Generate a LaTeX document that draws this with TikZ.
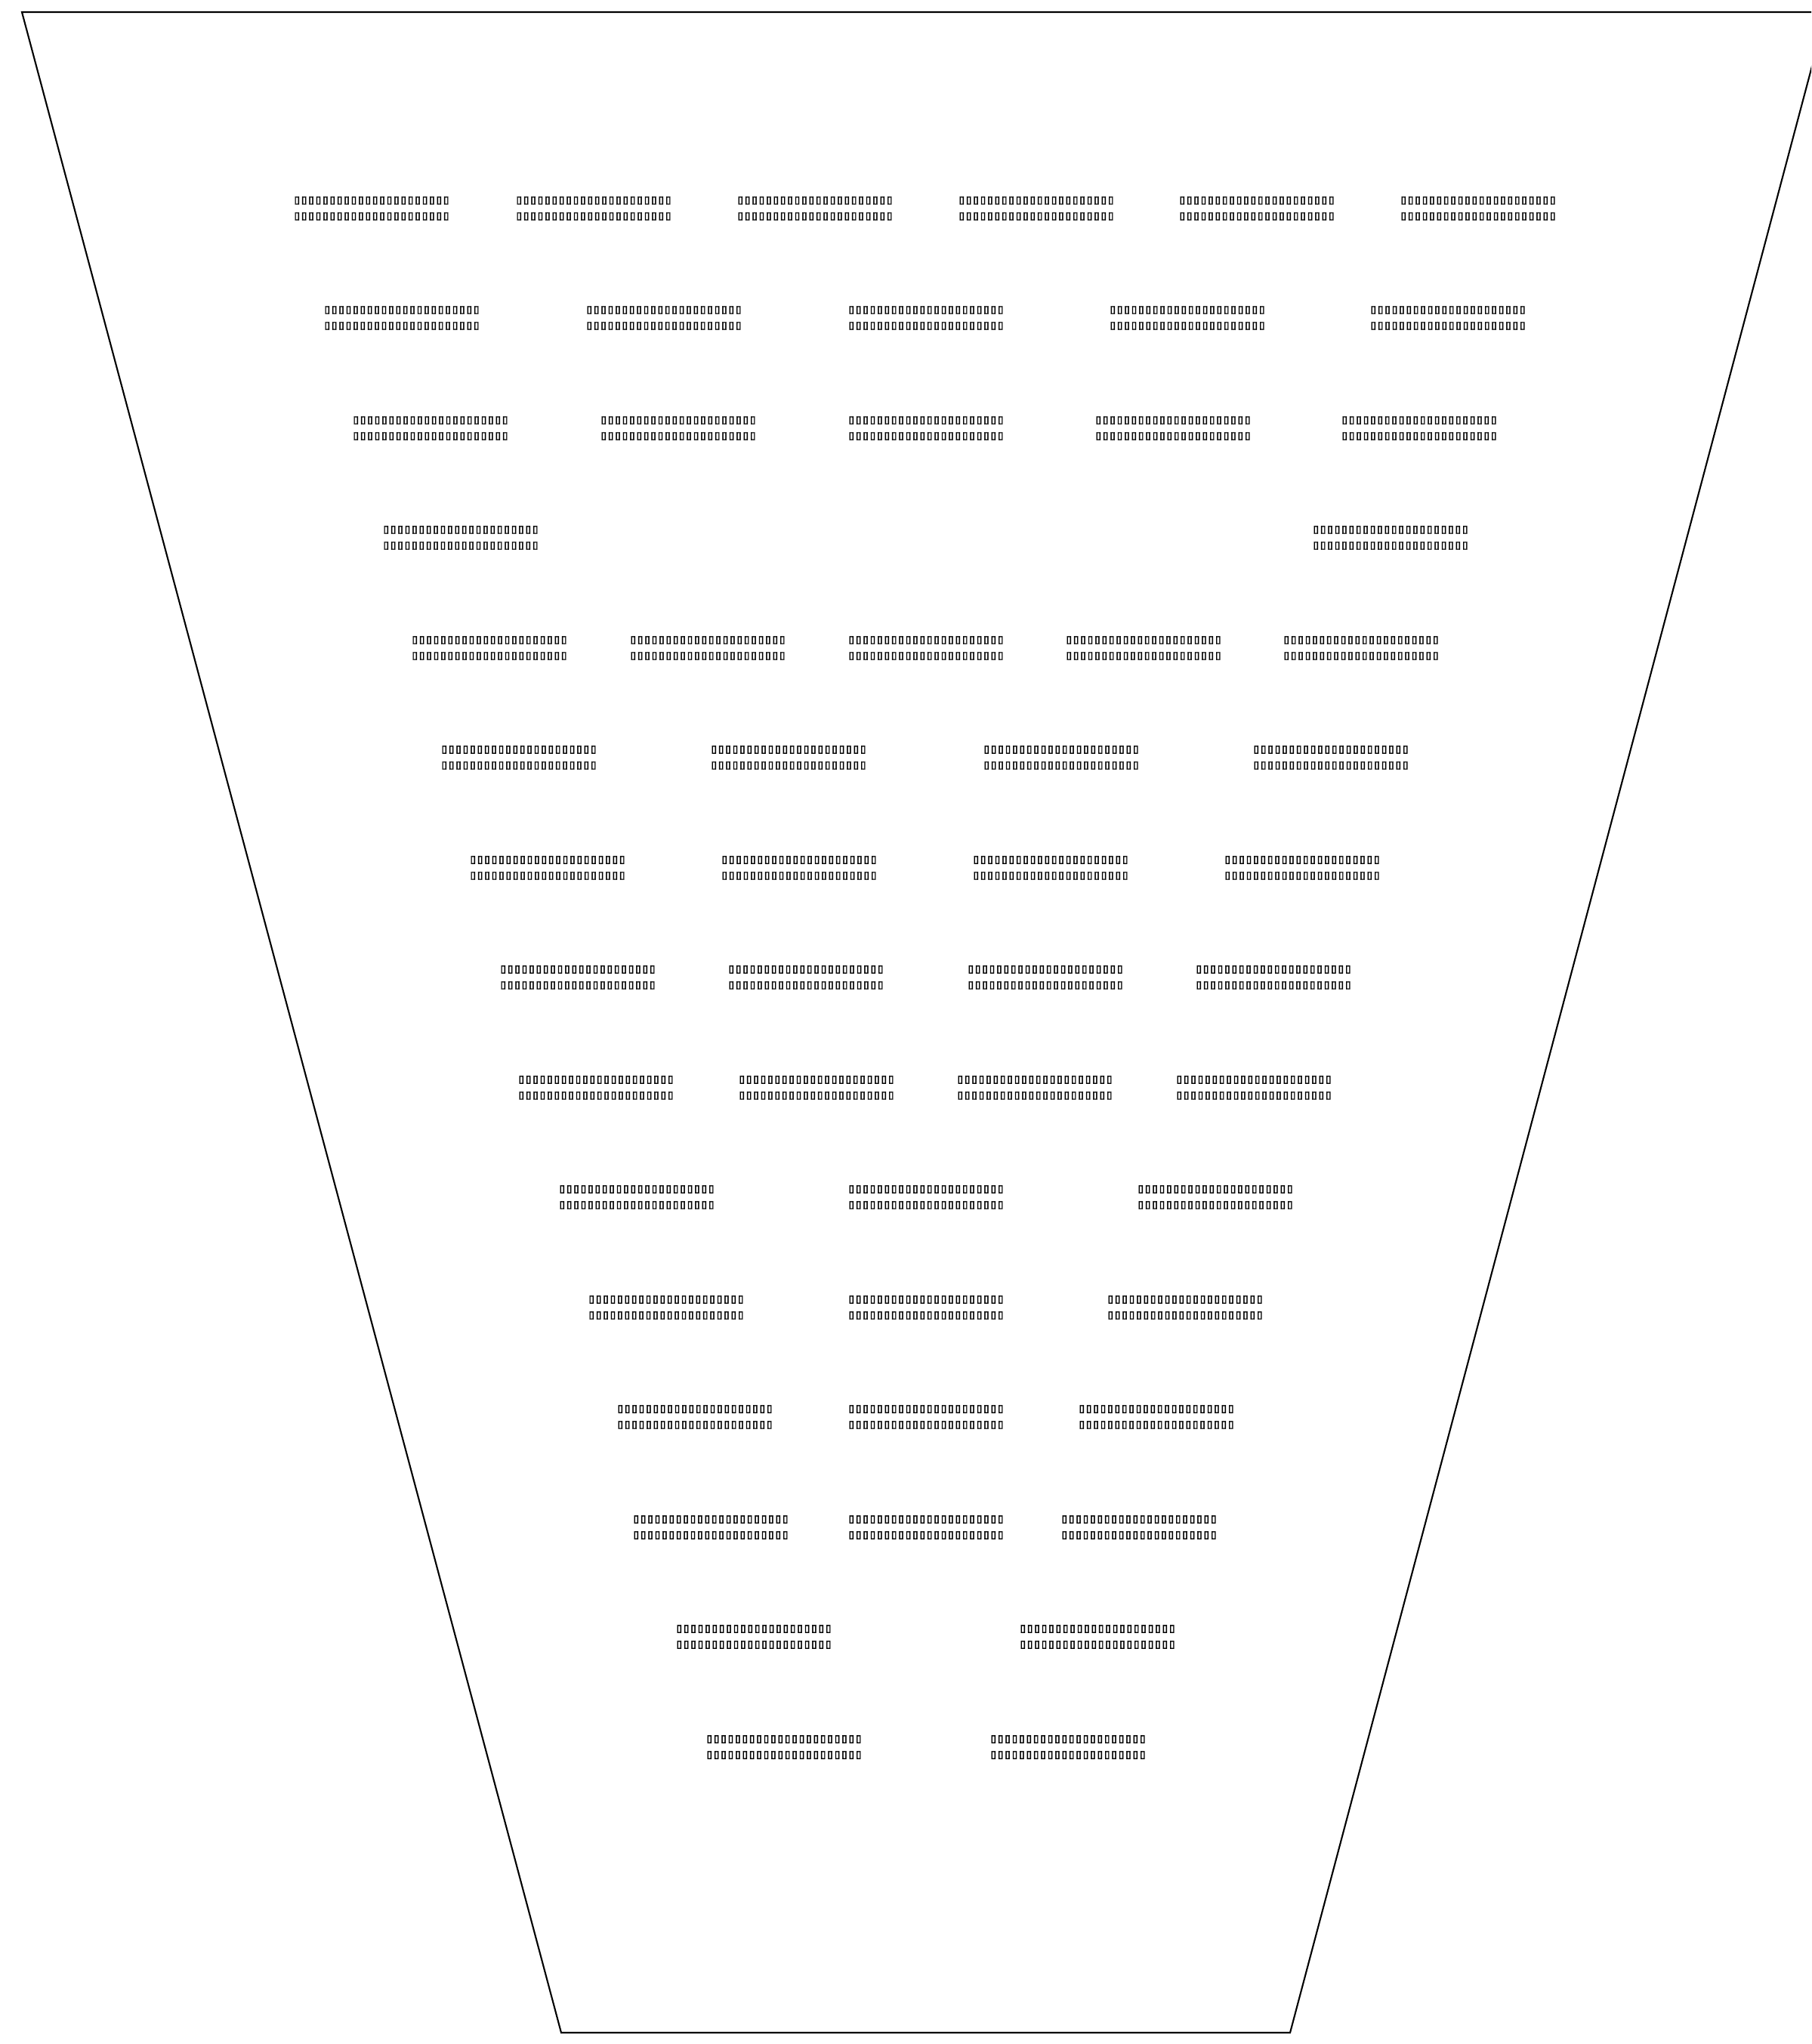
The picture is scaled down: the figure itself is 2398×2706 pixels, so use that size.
\documentclass[tikz,border=0pt]{standalone}
\usepackage{fontspec}
\usepackage{tikz}
\usetikzlibrary{positioning}
\newfontfamily\tofu[FakeBold=2.5, LetterSpace=-6.7]{DejaVu Sans Mono Bold}
\newcommand{\boxrow}{▯▯▯▯▯▯▯▯▯▯▯▯▯▯▯▯▯▯▯▯▯▯}

\begin{document}
\begin{tikzpicture}[
    x=0.1mm, y=-0.1mm,
    rim/.style={draw=black, line width=0.6pt},
    lbl/.style={font=\tofu\fontsize{5pt}{5.97pt}\selectfont,
                align=center, inner sep=0pt}
  ]
    \useasboundingbox (0,0) rectangle (2398,2706);
    \clip (0,0) rectangle (2398,2706);

    % outline of the cup
    \coordinate (tl) at (29,16);
    \coordinate (tr) at (2418,16);
    \coordinate (br) at (1708,2691);
    \coordinate (bl) at (743,2691);
    \draw[rim] (tl) -- (tr) -- (br) -- (bl) -- cycle;

    % row 1
    \node[lbl] (r1a) at (492,276)  {\boxrow\\\boxrow};
    \node[lbl] (r1b) at (786,276)  {\boxrow\\\boxrow};
    \node[lbl] (r1c) at (1079,276) {\boxrow\\\boxrow};
    \node[lbl] (r1d) at (1372,276) {\boxrow\\\boxrow};
    \node[lbl] (r1e) at (1664,276) {\boxrow\\\boxrow};
    \node[lbl] (r1f) at (1957,276) {\boxrow\\\boxrow};

    % row 2
    \node[lbl] (r2a) at (532,421)  {\boxrow\\\boxrow};
    \node[lbl] (r2b) at (879,421)  {\boxrow\\\boxrow};
    \node[lbl] (r2c) at (1226,421) {\boxrow\\\boxrow};
    \node[lbl] (r2d) at (1572,421) {\boxrow\\\boxrow};
    \node[lbl] (r2e) at (1917,421) {\boxrow\\\boxrow};

    % row 3
    \node[lbl] (r3a) at (570,567)  {\boxrow\\\boxrow};
    \node[lbl] (r3b) at (898,567)  {\boxrow\\\boxrow};
    \node[lbl] (r3c) at (1226,567) {\boxrow\\\boxrow};
    \node[lbl] (r3d) at (1553,567) {\boxrow\\\boxrow};
    \node[lbl] (r3e) at (1879,567) {\boxrow\\\boxrow};

    % row 4
    \node[lbl] (r4a) at (610,712)  {\boxrow\\\boxrow};
    \node[lbl] (r4b) at (1841,712) {\boxrow\\\boxrow};

    % row 5
    \node[lbl] (r5a) at (648,858)  {\boxrow\\\boxrow};
    \node[lbl] (r5b) at (937,858)  {\boxrow\\\boxrow};
    \node[lbl] (r5c) at (1226,858) {\boxrow\\\boxrow};
    \node[lbl] (r5d) at (1514,858) {\boxrow\\\boxrow};
    \node[lbl] (r5e) at (1802,858) {\boxrow\\\boxrow};

    % row 6
    \node[lbl] (r6a) at (687,1003)  {\boxrow\\\boxrow};
    \node[lbl] (r6b) at (1044,1003) {\boxrow\\\boxrow};
    \node[lbl] (r6c) at (1405,1003) {\boxrow\\\boxrow};
    \node[lbl] (r6d) at (1762,1003) {\boxrow\\\boxrow};

    % row 7
    \node[lbl] (r7a) at (725,1149)  {\boxrow\\\boxrow};
    \node[lbl] (r7b) at (1058,1149) {\boxrow\\\boxrow};
    \node[lbl] (r7c) at (1391,1149) {\boxrow\\\boxrow};
    \node[lbl] (r7d) at (1724,1149) {\boxrow\\\boxrow};

    % row 8
    \node[lbl] (r8a) at (765,1294)  {\boxrow\\\boxrow};
    \node[lbl] (r8b) at (1067,1294) {\boxrow\\\boxrow};
    \node[lbl] (r8c) at (1384,1294) {\boxrow\\\boxrow};
    \node[lbl] (r8d) at (1686,1294) {\boxrow\\\boxrow};

    % row 9
    \node[lbl] (r9a) at (789,1440)  {\boxrow\\\boxrow};
    \node[lbl] (r9b) at (1081,1440) {\boxrow\\\boxrow};
    \node[lbl] (r9c) at (1370,1440) {\boxrow\\\boxrow};
    \node[lbl] (r9d) at (1660,1440) {\boxrow\\\boxrow};

    % row 10
    \node[lbl] (r10a) at (843,1585)  {\boxrow\\\boxrow};
    \node[lbl] (r10b) at (1226,1585) {\boxrow\\\boxrow};
    \node[lbl] (r10c) at (1609,1585) {\boxrow\\\boxrow};

    % row 11
    \node[lbl] (r11a) at (882,1731)  {\boxrow\\\boxrow};
    \node[lbl] (r11b) at (1226,1731) {\boxrow\\\boxrow};
    \node[lbl] (r11c) at (1569,1731) {\boxrow\\\boxrow};

    % row 12
    \node[lbl] (r12a) at (920,1876)  {\boxrow\\\boxrow};
    \node[lbl] (r12b) at (1226,1876) {\boxrow\\\boxrow};
    \node[lbl] (r12c) at (1531,1876) {\boxrow\\\boxrow};

    % row 13
    \node[lbl] (r13a) at (941,2022)  {\boxrow\\\boxrow};
    \node[lbl] (r13b) at (1226,2022) {\boxrow\\\boxrow};
    \node[lbl] (r13c) at (1508,2022) {\boxrow\\\boxrow};

    % row 14
    \node[lbl] (r14a) at (998,2167)  {\boxrow\\\boxrow};
    \node[lbl] (r14b) at (1453,2167) {\boxrow\\\boxrow};

    % row 15
    \node[lbl] (r15a) at (1038,2313) {\boxrow\\\boxrow};
    \node[lbl] (r15b) at (1414,2313) {\boxrow\\\boxrow};
  \end{tikzpicture}
\end{document}
